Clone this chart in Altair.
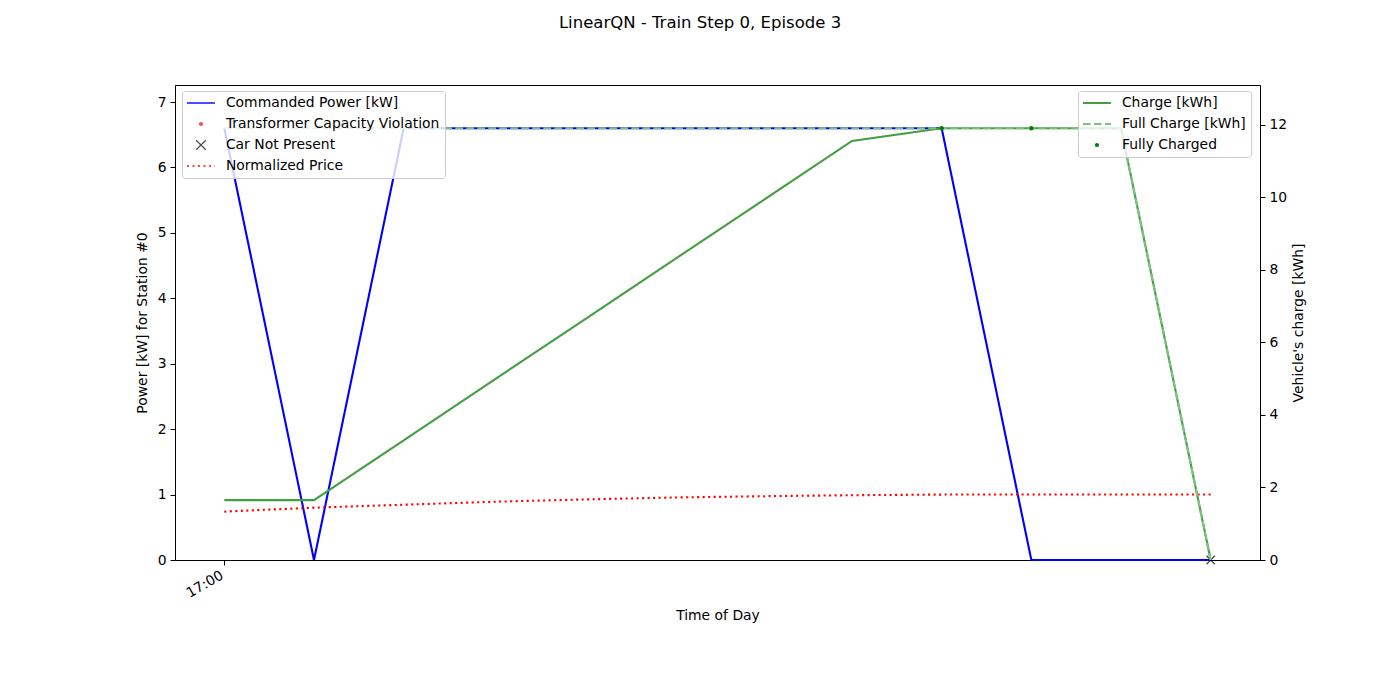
import altair as alt
import pandas as pd

# ---------------- data ----------------
times = ["17:00", "17:15", "17:30", "17:45", "18:00", "18:15",
         "18:30", "18:45", "19:00", "19:15", "19:30", "19:45"]
power = [6.6, 0.0, 6.6, 6.6, 6.6, 6.6, 6.6, 6.6, 6.6, 0.0, 0.0, 0.0]
price = [0.74, 0.80, 0.845, 0.89, 0.925, 0.955, 0.975, 0.99, 1.0, 1.0, 1.0, 1.0]
charge = [1.65, 1.65, 3.3, 4.95, 6.6, 8.25, 9.9, 11.55, 11.9, 11.9, 11.9, 0.0]
full_charge = [11.9, 11.9, 11.9, 11.9, 11.9, 11.9, 11.9, 11.9, 11.9, 11.9, 11.9, 0.0]
fully_charged_idx = [8, 9]
car_absent_idx = [11]
violation_idx = []

left_names = ["Commanded Power [kW]", "Transformer Capacity Violation",
              "Car Not Present", "Normalized Price"]
left_colors = ["#0000ff", "#ff0000", "#000000", "#ff0000"]
right_names = ["Charge [kWh]", "Full Charge [kWh]", "Fully Charged"]
right_colors = ["#40a040", "#80c080", "#008000"]

title_text = "LinearQN - Train Step 0, Episode 3"
day = "2020-01-01T"

FONT = "DejaVu Sans"
XPATH = "M-1,-1L1,1M-1,1L1,-1"
LW = 2.1
DOT = [2.1, 3.4]
DASH = [7.7, 3.3]


def ts(i):
    return day + times[i] + ":00"


def frame(values, name, idx=None):
    idx = list(range(len(values))) if idx is None else list(idx)
    return pd.DataFrame({"t": [ts(i) for i in idx],
                         "v": [values[i] for i in idx],
                         "series": [name] * len(idx)})


def pick(names, vals):
    expr = vals[-1]
    for n, v in reversed(list(zip(names[:-1], vals[:-1]))):
        expr = f"datum.value == '{n}' ? {v} : ({expr})"
    return {"expr": expr}


x_enc = alt.X(
    "t:T",
    title="Time of Day",
    scale=alt.Scale(domain=[
        alt.DateTime(year=2020, month=1, date=1, hours=16, minutes=51, seconds=45),
        alt.DateTime(year=2020, month=1, date=1, hours=19, minutes=53, seconds=15)]),
    axis=alt.Axis(values=[alt.DateTime(year=2020, month=1, date=1, hours=17, minutes=0)],
                  format="%H:%M", labelAngle=330, labelAlign="right", labelBaseline="top",
                  labelOffset=-6, tickSize=5, labelPadding=3, titlePadding=8),
)


def legend(names, shapes, sizes, widths, dashes, lx):
    return alt.Legend(
        title=None, orient="none", legendX=lx, legendY=6, direction="vertical",
        fillColor="rgba(255,255,255,0.8)", strokeColor="#cccccc", cornerRadius=3,
        padding=5, labelFont=FONT, labelFontSize=13.9, labelColor="black",
        labelLimit=500, clipHeight=14, rowPadding=7, labelOffset=18, symbolOffset=7,
        symbolType=pick(names, [f"'{s}'" for s in shapes]),
        symbolSize=pick(names, [str(s) for s in sizes]),
        symbolStrokeWidth=pick(names, [str(w) for w in widths]),
        symbolDash=pick(names, [str(d) for d in dashes]),
    )


leg_l = legend(left_names, ["stroke", "circle", XPATH, "stroke"],
               [784, 18, 90, 784], [LW, 0, 1.3, LW],
               [[1, 0], [1, 0], [1, 0], DOT], 7)
leg_r = legend(right_names, ["stroke", "stroke", "circle"],
               [784, 784, 18], [LW, LW, 0],
               [[1, 0], DASH, [1, 0]], 903)

cl = alt.Color("series:N", scale=alt.Scale(domain=left_names, range=left_colors), legend=leg_l)
cr = alt.Color("series:N", scale=alt.Scale(domain=right_names, range=right_colors), legend=leg_r)

yl = alt.Y("v:Q", scale=alt.Scale(domain=[0, 7.26], nice=False),
           axis=alt.Axis(orient="left", values=list(range(0, 8)), title="Power [kW] for Station #0",
                         tickSize=5, labelPadding=4, titlePadding=8))
yr = alt.Y("v:Q", scale=alt.Scale(domain=[0, 13.09], nice=False),
           axis=alt.Axis(orient="right", values=list(range(0, 13, 2)), title="Vehicle's charge [kWh]",
                         tickSize=5, labelPadding=4, titlePadding=19, titleAngle=270))

power_line = alt.Chart(frame(power, left_names[0])).mark_line(strokeWidth=LW).encode(
    x=x_enc, y=yl, color=cl)
price_line = alt.Chart(frame(price, left_names[3])).mark_line(
    strokeWidth=LW, strokeDash=DOT).encode(x=x_enc, y=yl, color=cl)
viol_pts = alt.Chart(frame(power, left_names[1], violation_idx)).mark_point(
    filled=True, size=18).encode(x=x_enc, y=yl, color=cl)
car_pts = alt.Chart(frame([0.0] * len(times), left_names[2], car_absent_idx)).mark_point(
    shape=XPATH, filled=False, size=70, strokeWidth=1.3).encode(x=x_enc, y=yl, color=cl)

left = alt.layer(power_line, price_line, viol_pts, car_pts)

charge_line = alt.Chart(frame(charge, right_names[0])).mark_line(strokeWidth=LW).encode(
    x=x_enc, y=yr, color=cr)
full_line = alt.Chart(frame(full_charge, right_names[1])).mark_line(
    strokeWidth=LW, strokeDash=DASH).encode(x=x_enc, y=yr, color=cr)
full_pts = alt.Chart(frame(full_charge, right_names[2], fully_charged_idx)).mark_point(
    filled=True, size=20, opacity=1).encode(x=x_enc, y=yr, color=cr)

right = alt.layer(charge_line, full_line, full_pts)

chart = alt.layer(left, right).resolve_scale(y="independent", color="independent").properties(
    width=1085, height=475,
    autosize=alt.AutoSizeParams(type="none"),
    padding={"left": 175, "top": 85, "right": 140, "bottom": 140},
    title=alt.TitleParams(title_text, font=FONT, fontSize=16.5, fontWeight="normal",
                          color="black", anchor="middle", frame="group", baseline="middle",
                          offset=46, dx=-17.5),
).configure(background="white").configure_view(stroke="black", strokeWidth=1).configure_axis(
    grid=False, domainColor="black", tickColor="black", labelColor="black",
    titleColor="black", labelFont=FONT, titleFont=FONT, labelFontSize=13.9,
    titleFontSize=13.9, titleFontWeight="normal", domainWidth=1, tickWidth=1,
)

chart.save("out.html", embed_options={"renderer": "svg", "actions": False})
